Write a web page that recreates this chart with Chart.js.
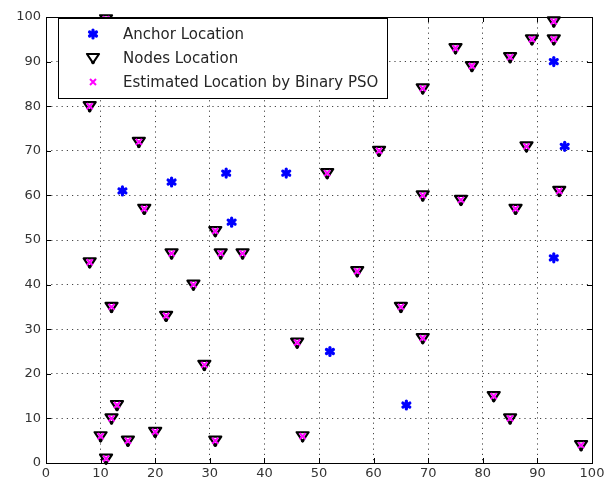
<!DOCTYPE html>
<html>
<head>
<meta charset="utf-8">
<script src="https://cdn.jsdelivr.net/npm/chart.js@4"></script>
<style>
  html, body { margin: 0; padding: 0; background: #fff; }
  canvas { display: block; }
</style>
</head>
<body>
<canvas id="chart" width="613" height="486"></canvas>
<script>
// ---- data ----
const anchorX = [14, 23, 33, 34, 44, 52, 66, 93, 95, 93];
const anchorY = [61, 63, 65, 54, 65, 25, 13, 90, 71, 46];

const nodeX = [8, 17, 18, 31, 8, 23, 32, 36, 27, 12, 22, 29, 13, 12, 10, 11, 15, 20, 31, 46, 47,
  57, 51.5, 61, 65, 69, 69, 69, 75, 78, 76, 85, 86, 88, 89, 93, 93, 94, 82, 85, 98, 11, 37];
const nodeY = [80, 72, 57, 52, 45, 47, 47, 47, 40, 35, 33, 22, 13, 10, 6, 1, 5, 7, 5, 27, 6,
  43, 65, 70, 35, 28, 60, 84, 93, 89, 59, 91, 57, 71, 95, 99, 95, 61, 15, 10, 4, 99.5, 83];

const estX = [8, 17, 18, 31, 8, 23, 32, 36, 27, 12, 22, 29, 13, 12, 10, 11, 15, 20, 31, 46, 47,
  57, 51.5, 61, 65, 69, 69, 69, 75, 78, 76, 85, 86, 88, 89, 93, 93, 94, 82, 85, 98, 11, 37];
const estY = [80, 72, 57, 52, 45, 47, 47, 47, 40, 35, 33, 22, 13, 10, 6, 1, 5, 7, 5, 27, 6,
  43, 65, 70, 35, 28, 60, 84, 93, 89, 59, 91, 57, 71, 95, 99, 95, 61, 15, 10, 4, 99.5, 83];

const legendLabels = ['Anchor Location', 'Nodes Location', 'Estimated Location by Binary PSO'];
const axisTicks = [0, 10, 20, 30, 40, 50, 60, 70, 80, 90, 100];

function pts(xs, ys) {
  return xs.map((x, i) => ({ x, y: ys[i] }));
}

const FONT = '"DejaVu Sans", Verdana, sans-serif';

// ---- marker painters (used for the legend too) ----
function drawStar(ctx, x, y) {
  ctx.save();
  ctx.strokeStyle = '#0000ff';
  ctx.lineWidth = 3.2;
  ctx.lineCap = 'round';
  for (let a = 0; a < 3; a++) {
    const t = a * Math.PI / 3 + Math.PI / 2;
    ctx.beginPath();
    ctx.moveTo(x + Math.cos(t) * 4, y + Math.sin(t) * 4);
    ctx.lineTo(x - Math.cos(t) * 4, y - Math.sin(t) * 4);
    ctx.stroke();
  }
  ctx.restore();
}
function drawTri(ctx, x, y) {
  ctx.save();
  ctx.strokeStyle = '#000';
  ctx.fillStyle = '#000';
  ctx.lineWidth = 2.2;
  ctx.lineJoin = 'round';
  ctx.beginPath();
  ctx.moveTo(x - 6, y - 4);
  ctx.lineTo(x + 6, y - 4);
  ctx.lineTo(x, y + 5);
  ctx.closePath();
  ctx.stroke();
  ctx.beginPath();
  ctx.arc(x, y + 4.5, 1.8, 0, Math.PI * 2);
  ctx.fill();
  ctx.restore();
}
function drawX(ctx, x, y) {
  ctx.save();
  ctx.strokeStyle = '#ff00ff';
  ctx.lineWidth = 2;
  ctx.beginPath();
  ctx.moveTo(x - 3, y - 3); ctx.lineTo(x + 3, y + 3);
  ctx.moveTo(x + 3, y - 3); ctx.lineTo(x - 3, y + 3);
  ctx.stroke();
  ctx.restore();
}

// ---- frame, inner ticks and legend box ----
const framePlugin = {
  id: 'frame',
  afterDatasetsDraw(chart) {
    const { ctx, chartArea: a, scales } = chart;
    ctx.save();
    ctx.strokeStyle = '#000';
    ctx.lineWidth = 1;
    ctx.strokeRect(a.left + 0.5, a.top + 0.5, a.right - a.left, a.bottom - a.top);
    ctx.beginPath();
    axisTicks.forEach(v => {
      const px = Math.round(scales.x.getPixelForValue(v)) + 0.5;
      ctx.moveTo(px, a.bottom); ctx.lineTo(px, a.bottom - 5);
      ctx.moveTo(px, a.top); ctx.lineTo(px, a.top + 5);
      const py = Math.round(scales.y.getPixelForValue(v)) + 0.5;
      ctx.moveTo(a.left, py); ctx.lineTo(a.left + 5, py);
      ctx.moveTo(a.right, py); ctx.lineTo(a.right - 5, py);
    });
    ctx.stroke();

    // legend
    const lx = 58, ly = 18, lw = 329, lh = 80;
    ctx.fillStyle = '#fff';
    ctx.fillRect(lx, ly, lw, lh);
    ctx.strokeStyle = '#000';
    ctx.strokeRect(lx + 0.5, ly + 0.5, lw, lh);
    const rows = [34, 58, 82];
    drawStar(ctx, 93, rows[0]);
    drawTri(ctx, 93, rows[1]);
    drawX(ctx, 93, rows[2]);
    ctx.fillStyle = '#262626';
    ctx.font = '15px ' + FONT;
    ctx.textBaseline = 'middle';
    legendLabels.forEach((t, i) => ctx.fillText(t, 123, rows[i] + 1));
    ctx.restore();
  }
};

const markerPlugin = {
  id: 'markers',
  afterDatasetsDraw(chart) {
    const ctx = chart.ctx;
    const painters = [drawStar, drawTri, drawX];
    chart.data.datasets.forEach((ds, i) => {
      chart.getDatasetMeta(i).data.forEach(el => painters[i](ctx, el.x, el.y));
    });
  }
};

new Chart(document.getElementById('chart'), {
  type: 'scatter',
  data: {
    datasets: [
      { label: legendLabels[0], data: pts(anchorX, anchorY), pointRadius: 0 },
      { label: legendLabels[1], data: pts(nodeX, nodeY), pointRadius: 0 },
      { label: legendLabels[2], data: pts(estX, estY), pointRadius: 0 },
    ]
  },
  options: {
    responsive: false,
    animation: false,
    layout: { padding: { top: 17, right: 21, left: 0, bottom: 0 } },
    plugins: { legend: { display: false }, tooltip: { enabled: false } },
    scales: {
      x: {
        min: 0, max: 100,
        afterFit: s => { s.height = 23; },
        afterBuildTicks: s => { s.ticks = axisTicks.map(v => ({ value: v })); },
        ticks: { color: '#333', font: { family: FONT, size: 13 }, padding: 3, maxRotation: 0 },
        grid: { color: '#444', lineWidth: 1, tickLength: 0, drawTicks: false },
        border: { display: false, dash: [1.2, 4] }
      },
      y: {
        min: 0, max: 100,
        afterFit: s => { s.width = 46; },
        afterBuildTicks: s => { s.ticks = axisTicks.map(v => ({ value: v })); },
        ticks: { color: '#333', font: { family: FONT, size: 13 }, padding: 5 },
        grid: { color: '#444', lineWidth: 1, tickLength: 0, drawTicks: false },
        border: { display: false, dash: [1.2, 4] }
      }
    }
  },
  plugins: [markerPlugin, framePlugin]
});
</script>
</body>
</html>
